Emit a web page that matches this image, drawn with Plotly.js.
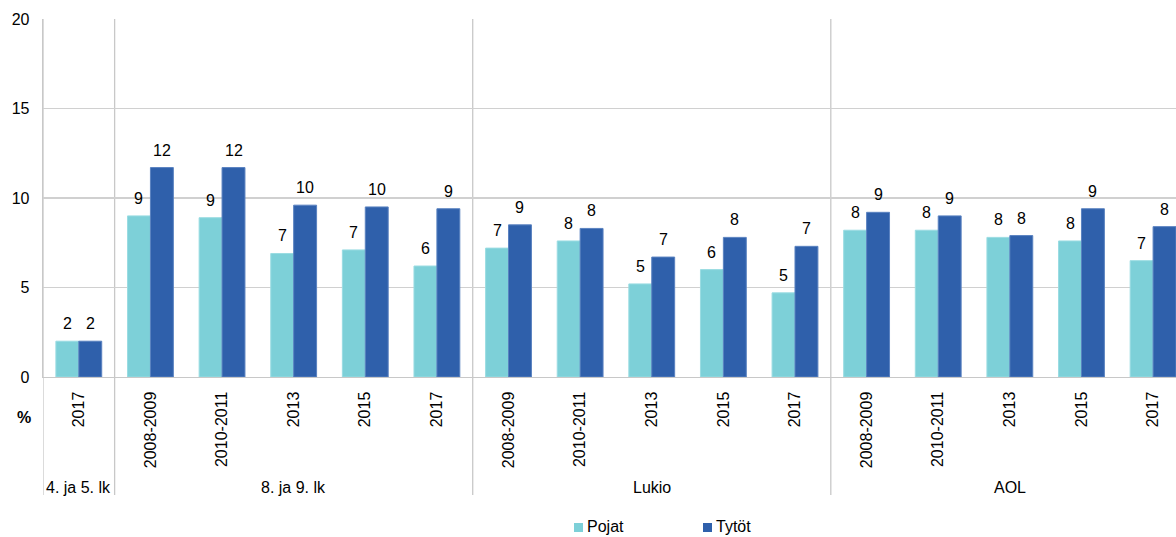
<!DOCTYPE html>
<html>
<head>
<meta charset="utf-8">
<script src="https://cdn.plot.ly/plotly-3.0.1.min.js"></script>
<style>
html,body{margin:0;padding:0;background:#fff;}
#chart{width:1176px;height:537px;}
</style>
</head>
<body>
<div id="chart"></div>
<script>
// ---- data ----
var groups = ["4. ja 5. lk", "8. ja 9. lk", "Lukio", "AOL"];
var groupSizes = [1, 5, 5, 5];
var years = ["2017",
  "2008-2009", "2010-2011", "2013", "2015", "2017",
  "2008-2009", "2010-2011", "2013", "2015", "2017",
  "2008-2009", "2010-2011", "2013", "2015", "2017"];
var seriesNames = ["Pojat", "Tytöt"];
var pojat = [2.0, 9.0, 8.9, 6.9, 7.1, 6.2, 7.2, 7.6, 5.2, 6.0, 4.7, 8.2, 8.2, 7.8, 7.6, 6.5];
var tytot = [2.0, 11.7, 11.7, 9.6, 9.5, 9.4, 8.5, 8.3, 6.7, 7.8, 7.3, 9.2, 9.0, 7.9, 9.4, 8.4];
var yLabel = "%";

// ---- build ----
var idx = years.map(function(_, i){ return i; });
var font = "Liberation Sans, Arial, sans-serif";
var bargap = 0.36;
var colors = ["#7DD0D8", "#2F60AB"];
var lineColors = ["#9ADCE2", "#5A82C0"];
var seriesVals = [pojat, tytot];

var traces = seriesVals.map(function(vals, s){
  return {
    type: "bar", name: seriesNames[s], x: idx, y: vals,
    marker: {color: colors[s], line: {color: lineColors[s], width: 1}},
    hoverinfo: "none", showlegend: false
  };
});

var shapes = [];
var annotations = [];
var plotL = 43, plotW = 1133, plotB = 377, plotH = 358;
function py(px){ return -(px - plotB) / plotH; }
function pxp(px){ return (px - plotL) / plotW; }

// value labels above bars
seriesVals.forEach(function(vals, s){
  var off = (s === 0 ? -1 : 1) * (1 - bargap) / 4;
  vals.forEach(function(v, i){
    annotations.push({xref: "x", yref: "y", x: i + off, y: v, yanchor: "bottom", yshift: 7,
      text: String(Math.round(v)), showarrow: false,
      font: {family: font, size: 16, color: "#000"}});
  });
});

var lowY = py(495);
shapes.push({type: "line", xref: "x", yref: "paper", x0: -0.5, x1: -0.5, y0: lowY, y1: 1,
  line: {color: "#C8C8C8", width: 1.3}, layer: "below"});
var start = 0;
for (var g = 0; g < groups.length; g++) {
  var end = start + groupSizes[g];
  annotations.push({xref: "x", yref: "paper", x: (start + end - 1) / 2, y: py(487),
    text: groups[g], showarrow: false, font: {family: font, size: 16, color: "#000"},
    yanchor: "middle"});
  if (g < groups.length - 1) {
    shapes.push({type: "line", xref: "x", yref: "paper", x0: end - 0.5, x1: end - 0.5, y0: lowY, y1: 1,
      line: {color: "#C8C8C8", width: 1.3}, layer: "below"});
  }
  start = end;
}
annotations.push({xref: "paper", yref: "paper", x: pxp(24), y: py(417),
  text: "<b>" + yLabel + "</b>", showarrow: false, font: {family: font, size: 16, color: "#000"},
  yanchor: "middle", xanchor: "center"});

// legend (drawn)
var legX = [574, 703];
seriesNames.forEach(function(n, s){
  shapes.push({type: "rect", xref: "paper", yref: "paper",
    x0: pxp(legX[s]), x1: pxp(legX[s] + 9), y0: py(532), y1: py(523),
    fillcolor: colors[s], line: {width: 0}});
  annotations.push({xref: "paper", yref: "paper", x: pxp(legX[s] + 12), y: py(526),
    xanchor: "left", yanchor: "middle", text: n, showarrow: false, borderpad: 0,
    font: {family: font, size: 16, color: "#000"}});
});

var layout = {
  width: 1176, height: 537,
  margin: {l: plotL, r: 0, t: 19, b: 160},
  paper_bgcolor: "#fff", plot_bgcolor: "#fff",
  font: {family: font, size: 16, color: "#000"},
  barmode: "group", bargap: bargap, bargroupgap: 0,
  showlegend: false,
  xaxis: {
    range: [-0.5, 15.32], tickmode: "array", tickvals: idx, ticktext: years,
    tickangle: -90, ticks: "", showgrid: false, zeroline: false,
    showline: true, linecolor: "#C8C8C8", linewidth: 1.3,
    tickfont: {family: font, size: 16, color: "#000"}, ticklabelstandoff: 7, fixedrange: true
  },
  yaxis: {
    range: [0, 20], dtick: 5, tick0: 0, ticks: "",
    showgrid: true, gridcolor: "#D0D0D0", gridwidth: 1.3, zeroline: false,
    showline: true, linecolor: "#C8C8C8", linewidth: 1.3,
    tickfont: {family: font, size: 16, color: "#000"}, ticklabelstandoff: 9, fixedrange: true
  },
  shapes: shapes, annotations: annotations
};

Plotly.newPlot("chart", traces, layout, {displayModeBar: false, staticPlot: true});
</script>
</body>
</html>
